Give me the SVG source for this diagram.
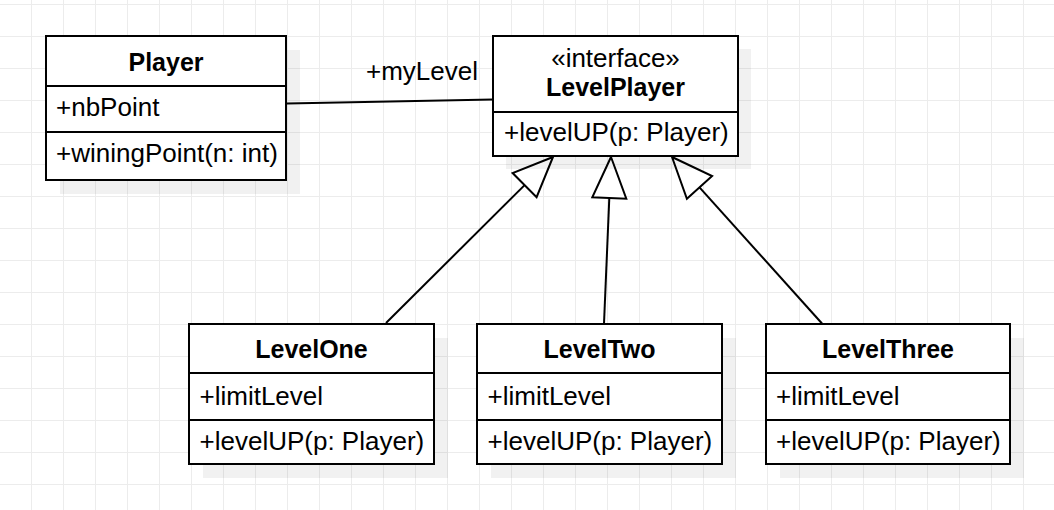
<svg xmlns="http://www.w3.org/2000/svg" width="1054" height="510" viewBox="0 0 1054 510">
<style>
.box{fill:#ffffff;stroke:#000000;stroke-width:2}
.div{stroke:#000000;stroke-width:2;fill:none}
.shadow{fill:#000000;fill-opacity:0.055}
.t{font-family:"Liberation Sans",Arial,sans-serif;font-size:26px;fill:#000000}
.b{font-family:"Liberation Sans",Arial,sans-serif;font-size:25px;font-weight:bold;fill:#000000}
.c{text-anchor:middle}
.edge{stroke:#000000;stroke-width:2;fill:none}
.tri{fill:#ffffff;stroke:#000000;stroke-width:2;stroke-linejoin:miter}
</style>
<defs>
<pattern id="grid" x="31" y="4" width="32" height="32" patternUnits="userSpaceOnUse">
<path d="M0.5 0V32M0 0.5H32" stroke="#ececec" stroke-width="1" fill="none"/>
</pattern>
</defs>
<rect x="0" y="0" width="1054" height="510" fill="#ffffff"/>
<rect x="0" y="0" width="1054" height="510" fill="url(#grid)"/>

<g id="connectors">
<path class="edge" d="M287 103.5L493 99.5"/>
<text class="t" x="366" y="80">+myLevel</text>
<path class="edge" d="M386 323L524.6 185.1"/>
<polygon class="tri" points="553,157 512.6,173 536.6,197.2"/>
<path class="edge" d="M604 323.5L609.3 198"/>
<polygon class="tri" points="611,157 592.3,197.3 626.3,198.7"/>
<path class="edge" d="M822 323.5L699.5 187.4"/>
<polygon class="tri" points="672,157 712.1,176 686.9,198.8"/>
</g>

<g id="Player">
<rect class="shadow" x="60" y="50" width="240" height="144"/>
<rect class="box" x="46" y="36" width="240" height="144"/>
<path class="div" d="M46 86H286M46 132H286"/>
<text class="b c" x="166" y="71">Player</text>
<text class="t" x="56" y="115.5">+nbPoint</text>
<text class="t" x="56" y="161.5">+winingPoint(n: int)</text>
</g>

<g id="LevelPlayer">
<rect class="shadow" x="506" y="49" width="245" height="120"/>
<rect class="box" x="493" y="36" width="245" height="120"/>
<path class="div" d="M493 112H738"/>
<text class="t c" x="615.5" y="67">«interface»</text>
<text class="b c" x="615.5" y="96">LevelPlayer</text>
<text class="t" x="504" y="141">+levelUP(p: Player)</text>
</g>

<g id="LevelOne">
<rect class="shadow" x="203" y="338" width="245" height="140"/>
<rect class="box" x="189" y="324" width="245" height="140"/>
<path class="div" d="M189 373H434M189 420H434"/>
<text class="b c" x="311.5" y="358">LevelOne</text>
<text class="t" x="199.5" y="404.5">+limitLevel</text>
<text class="t" x="199.5" y="449.5">+levelUP(p: Player)</text>
</g>

<g id="LevelTwo">
<rect class="shadow" x="491" y="338" width="245" height="140"/>
<rect class="box" x="477" y="324" width="245" height="140"/>
<path class="div" d="M477 373H722M477 420H722"/>
<text class="b c" x="599.5" y="358">LevelTwo</text>
<text class="t" x="487.5" y="404.5">+limitLevel</text>
<text class="t" x="487.5" y="449.5">+levelUP(p: Player)</text>
</g>

<g id="LevelThree">
<rect class="shadow" x="780" y="338" width="244" height="140"/>
<rect class="box" x="766" y="324" width="244" height="140"/>
<path class="div" d="M766 373H1010M766 420H1010"/>
<text class="b c" x="888" y="358">LevelThree</text>
<text class="t" x="776" y="404.5">+limitLevel</text>
<text class="t" x="776" y="449.5">+levelUP(p: Player)</text>
</g>
</svg>
